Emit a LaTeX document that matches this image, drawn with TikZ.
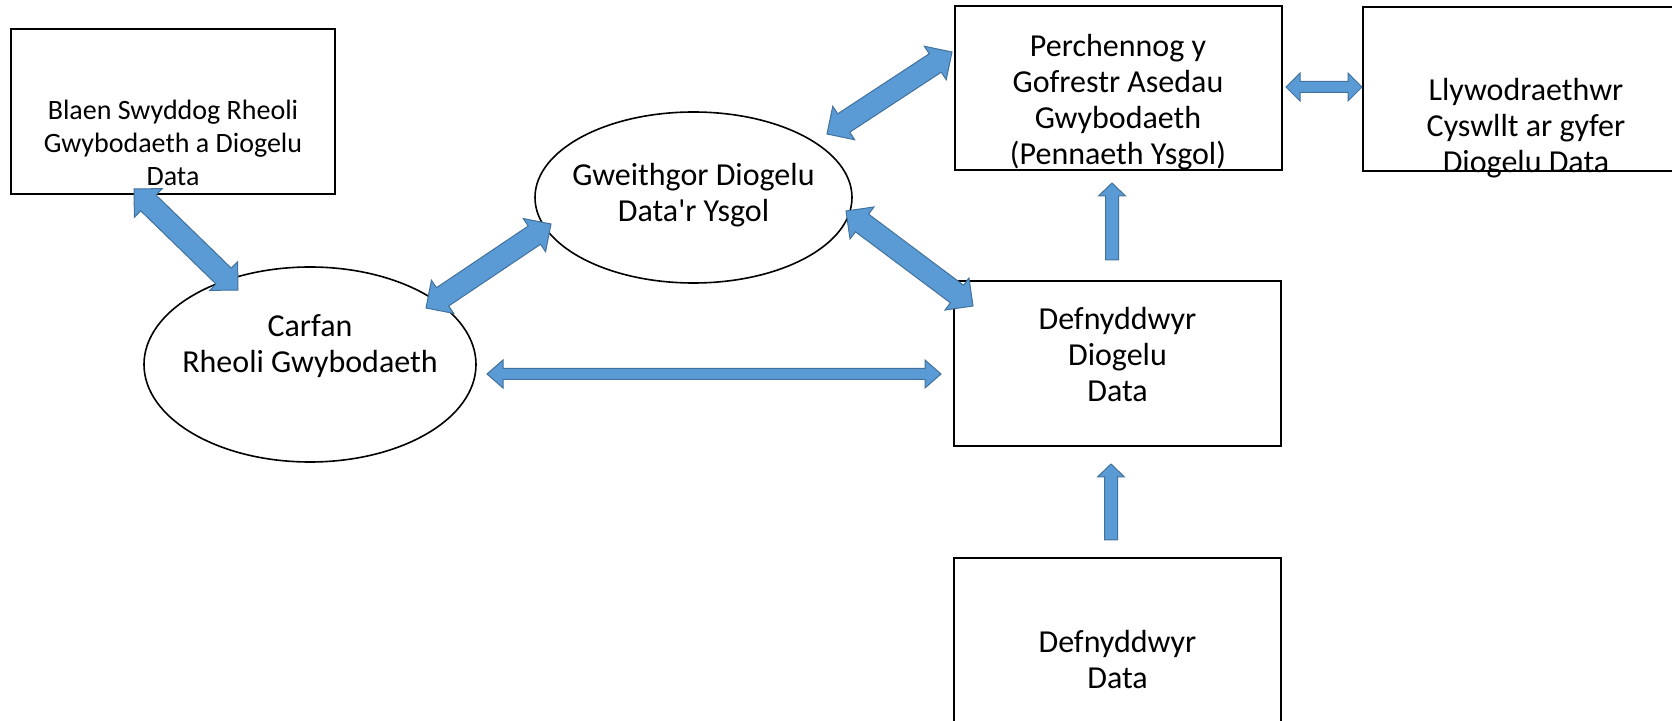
\documentclass[tikz,border=0pt]{standalone}
\usepackage{fontspec}
\setmainfont{Carlito}
\usetikzlibrary{shapes.geometric,calc}
\definecolor{arrowblue}{RGB}{91,155,213}
\definecolor{arrowedge}{RGB}{65,113,156}
% block arrow with two heads: ends #1 #2, half shaft #3, half head #4, head length #5
\newcommand{\dblarrow}[5]{%
  \filldraw[blockarrow] (#1) -- ($(#1)!#5!(#2)!#4!90:(#2)$) -- ($(#1)!#5!(#2)!#3!90:(#2)$)
    -- ($(#2)!#5!(#1)!#3!-90:(#1)$) -- ($(#2)!#5!(#1)!#4!-90:(#1)$) -- (#2)
    -- ($(#2)!#5!(#1)!#4!90:(#1)$) -- ($(#2)!#5!(#1)!#3!90:(#1)$)
    -- ($(#1)!#5!(#2)!#3!-90:(#2)$) -- ($(#1)!#5!(#2)!#4!-90:(#2)$) -- cycle;}
% block arrow with one head at #2
\newcommand{\onearrow}[5]{%
  \filldraw[blockarrow] ($(#1)!#3!90:(#2)$) -- ($(#2)!#5!(#1)!#3!-90:(#1)$)
    -- ($(#2)!#5!(#1)!#4!-90:(#1)$) -- (#2) -- ($(#2)!#5!(#1)!#4!90:(#1)$)
    -- ($(#2)!#5!(#1)!#3!90:(#1)$) -- ($(#1)!#3!-90:(#2)$) -- cycle;}
\begin{document}
\begin{tikzpicture}[x=0.5pt,y=-0.5pt,
    box/.style={draw,line width=1pt,minimum width=163.5pt,minimum height=82.5pt,inner sep=0pt},
    oval/.style={draw,ellipse,line width=0.8pt,inner sep=0pt},
    txt/.style={align=center,font=\fontsize{16}{18}\selectfont},
    blockarrow/.style={fill=arrowblue,draw=arrowedge,line width=0.5pt,line join=miter}]
    \useasboundingbox (0,0) rectangle (1672,721);
    % boxes
    \node[box,minimum width=162pt,label={[txt,font=\fontsize{14}{16.5}\selectfont,yshift=-15.5pt]center:{Blaen Swyddog Rheoli\\Gwybodaeth a Diogelu\\Data}}] (blaen) at (173,111.5) {};
    \node[box,minimum height=82pt,label={[txt,yshift=-7pt]center:{Perchennog y\\Gofrestr Asedau\\Gwybodaeth\\(Pennaeth Ysgol)}}] (perch) at (1118,88.5) {};
    \node[box,minimum height=82pt,label={[txt,yshift=-19.5pt]center:{Llywodraethwr\\Cyswllt ar gyfer\\Diogelu Data}}] (llyw) at (1526,89) {};
    \node[box,label={[txt,yshift=4.25pt]center:{Defnyddwyr\\Diogelu\\Data}}] (ddd) at (1117.5,363.5) {};
    \node[box,label={[txt,yshift=-9.75pt]center:{Defnyddwyr\\Data}}] (dd) at (1117.5,640.5) {};
    % arrows
    \coordinate (bc-s) at (134,189);   \coordinate (bc-e) at (238,290);
    \coordinate (cg-s) at (426,308);   \coordinate (cg-e) at (551,224);
    \coordinate (gp-s) at (827,134);   \coordinate (gp-e) at (952,52);
    \coordinate (gd-s) at (846,211);   \coordinate (gd-e) at (973,306);
    \coordinate (cd-s) at (487,374);   \coordinate (cd-e) at (941,374);
    \coordinate (pl-s) at (1286,87);   \coordinate (pl-e) at (1362,87);
    \coordinate (dp-s) at (1112,260);  \coordinate (dp-e) at (1112,183);
    \coordinate (up-s) at (1111,540);  \coordinate (up-e) at (1111,464);
    % ovals
    \node[oval,minimum width=158.5pt,minimum height=85.5pt,label={[txt,yshift=1pt]center:{Gweithgor Diogelu\\Data\textquotesingle r Ysgol}}] (gweith) at (693.5,197.5) {};
    \node[oval,minimum width=166pt,minimum height=97.5pt,label={[txt,yshift=9pt]center:{Carfan\\Rheoli Gwybodaeth}}] (carfan) at (310,364.5) {};
    \dblarrow{bc-s}{bc-e}{5.5pt}{10pt}{10pt}
    \dblarrow{cg-s}{cg-e}{5.5pt}{10pt}{10pt}
    \dblarrow{gp-s}{gp-e}{5.5pt}{10pt}{10pt}
    \dblarrow{gd-s}{gd-e}{5.5pt}{10pt}{10pt}
    \dblarrow{cd-s}{cd-e}{2.75pt}{7pt}{8pt}
    \dblarrow{pl-s}{pl-e}{2.75pt}{7pt}{7pt}
    \onearrow{dp-s}{dp-e}{3.25pt}{6.75pt}{6.5pt}
    \onearrow{up-s}{up-e}{3.25pt}{6.75pt}{6.5pt}
\end{tikzpicture}
\end{document}
